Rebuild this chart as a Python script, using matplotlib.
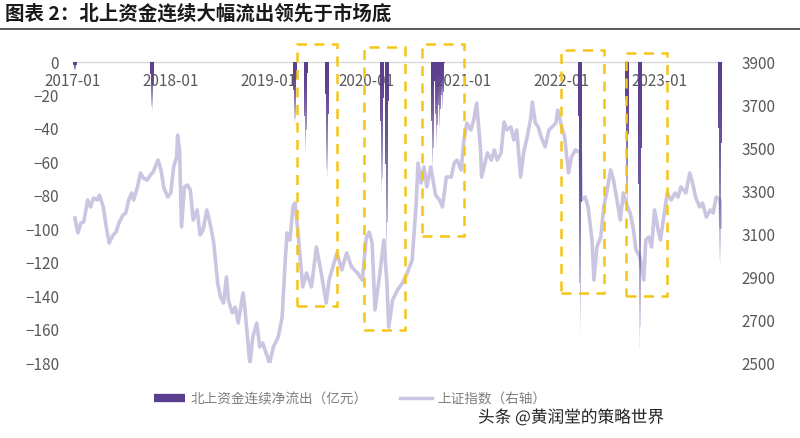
import matplotlib
matplotlib.use('Agg')
import matplotlib.pyplot as plt
import numpy as np
from matplotlib.patches import Rectangle
from matplotlib.lines import Line2D
import matplotlib.patheffects as pe
from matplotlib.colors import to_rgb

plt.rcParams['font.family'] = ['Noto Sans CJK SC', 'DejaVu Sans']

# ---------------- data ----------------
title = "图表 2：北上资金连续大幅流出领先于市场底"
legend_flow = "北上资金连续净流出（亿元）"
legend_sse = "上证指数（右轴）"
watermark = "头条 @黄润堂的策略世界"

tick_years = [2017, 2018, 2019, 2020, 2021, 2022, 2023]
tick_labels = ['2017-01', '2018-01', '2019-01', '2020-01', '2021-01', '2022-01', '2023-01']
left_ticks = [0, -20, -40, -60, -80, -100, -120, -140, -160, -180]
right_ticks = [3900, 3700, 3500, 3300, 3100, 2900, 2700, 2500]

# 上证指数 (decimal year, level)
sse_t = [2017.02, 2017.05, 2017.08, 2017.11, 2017.15, 2017.18, 2017.21, 2017.25, 2017.27, 2017.31,
         2017.34, 2017.37, 2017.41, 2017.44, 2017.47, 2017.51, 2017.54, 2017.57, 2017.60, 2017.62,
         2017.66, 2017.69, 2017.72, 2017.76, 2017.79, 2017.82, 2017.87, 2017.90, 2017.93, 2017.97,
         2018.00, 2018.03, 2018.06, 2018.07, 2018.09, 2018.11, 2018.14, 2018.17, 2018.20, 2018.23,
         2018.27, 2018.30, 2018.33, 2018.37, 2018.41, 2018.44, 2018.48, 2018.51, 2018.54, 2018.57,
         2018.59, 2018.63, 2018.66, 2018.69, 2018.74, 2018.76, 2018.79, 2018.81, 2018.84, 2018.88,
         2018.91, 2018.94, 2018.99,
         2019.01, 2019.05, 2019.10, 2019.14, 2019.17, 2019.19, 2019.22, 2019.25, 2019.27, 2019.30,
         2019.35, 2019.39, 2019.44, 2019.49, 2019.54, 2019.59, 2019.62, 2019.70, 2019.75, 2019.80,
         2019.85, 2019.91, 2019.96,
         2020.00, 2020.03, 2020.06, 2020.09, 2020.14, 2020.18, 2020.21, 2020.23, 2020.27, 2020.32,
         2020.37, 2020.42, 2020.47, 2020.51, 2020.53, 2020.56, 2020.59, 2020.62, 2020.66, 2020.71,
         2020.75, 2020.78, 2020.82, 2020.87, 2020.90, 2020.93, 2020.97,
         2021.00, 2021.03, 2021.07, 2021.10, 2021.13, 2021.17, 2021.18, 2021.24, 2021.28, 2021.31,
         2021.34, 2021.38, 2021.41, 2021.44, 2021.48, 2021.51, 2021.54, 2021.58, 2021.61, 2021.64,
         2021.68, 2021.70, 2021.73, 2021.76, 2021.79, 2021.83, 2021.87, 2021.90, 2021.94, 2021.96,
         2022.00, 2022.03, 2022.07, 2022.10, 2022.14, 2022.19, 2022.20, 2022.24, 2022.27, 2022.31,
         2022.33, 2022.36, 2022.40, 2022.43, 2022.46, 2022.50, 2022.53, 2022.56, 2022.60, 2022.63,
         2022.66, 2022.70, 2022.73, 2022.76, 2022.80, 2022.84, 2022.86, 2022.89, 2022.92, 2022.95,
         2022.98,
         2023.01, 2023.05, 2023.08, 2023.12, 2023.16, 2023.19, 2023.22, 2023.27, 2023.31, 2023.34,
         2023.37, 2023.41, 2023.44, 2023.48, 2023.52, 2023.55, 2023.58, 2023.62, 2023.63]
sse_v = [3174, 3105, 3151, 3156, 3258, 3226, 3267, 3258, 3281, 3226,
         3133, 3058, 3095, 3109, 3151, 3188, 3198, 3258, 3291, 3258,
         3319, 3384, 3360, 3351, 3374, 3388, 3444, 3398, 3314, 3272,
         3291, 3412, 3458, 3560, 3491, 3133, 3319, 3328, 3305, 3165,
         3212, 3095, 3119, 3212, 3133, 3058, 2872, 2807, 2779, 2900,
         2793, 2733, 2760, 2686, 2826, 2747, 2593, 2495, 2621, 2686,
         2575, 2593, 2528,
         2495, 2575, 2621, 2714, 2965, 3105, 3072, 3226, 3244, 3119,
         2854, 2919, 2854, 3040, 2919, 2779, 2886, 3012, 2933, 3012,
         2947, 2919, 2886,
         3081, 3109, 3058, 2747, 2919, 3072, 2886, 2667, 2793, 2840,
         2872, 2919, 2979, 3235, 3430, 3337, 3412, 3319, 3412, 3281,
         3258, 3226, 3365, 3365, 3430, 3444, 3398,
         3537, 3616, 3584, 3630, 3709, 3491, 3365, 3477, 3444, 3491,
         3444, 3477, 3621, 3584, 3598, 3537, 3584, 3365, 3477, 3537,
         3630, 3714, 3616, 3598, 3551, 3505, 3584, 3598, 3616, 3677,
         3598, 3551, 3384, 3458, 3491, 3477, 3258, 3272, 3226, 3072,
         2886, 3040, 3086, 3226, 3291, 3398, 3351, 3272, 3165, 3291,
         3244, 3198, 3133, 3026, 2993, 2886, 3072, 3086, 3040, 3212,
         3133,
         3072, 3198, 3291, 3258, 3291, 3272, 3319, 3291, 3384, 3337,
         3272, 3226, 3244, 3179, 3212, 3198, 3272, 3258, 3133]

# 北上资金连续净流出 (decimal year, 亿元)
flow_t = [2017.02, 2017.81, 2019.27, 2019.38, 2019.60, 2020.16, 2020.21,
          2020.68, 2020.72, 2020.75, 2020.78, 2022.19, 2022.67, 2022.80, 2023.62]
flow_v = [-5, -29, -37, -54, -69, -78, -116,
          -64, -50, -40, -28, -160, -90, -171, -121]

# highlighted periods (dashed boxes)
box_start = [2019.29, 2019.98, 2020.57, 2021.99, 2022.66]
box_end = [2019.70, 2020.40, 2021.00, 2022.43, 2023.08]
box_top = [10.8, 9.0, 10.8, 7.0, 5.4]
box_bottom = [-146, -160, -104, -138, -140]

# ---------------- style ----------------
c_flow = '#5B3F8F'
c_sse = '#CBC5E2'
c_box = '#F5C518'
c_text = '#595959'

fig = plt.figure(figsize=(8.0, 4.38), dpi=100)
ax = fig.add_axes([0.09125, 0.1712, 0.81125, 0.6872])
ax2 = ax.twinx()

# SSE line on right axis
ax2.plot(sse_t, sse_v, color=c_sse, lw=2.6, solid_joinstyle='round', zorder=2)
ax2.set_ylim(2500, 3900)
ax2.set_yticks(right_ticks)
ax2.tick_params(axis='y', length=0, pad=14, labelsize=11, labelcolor=c_text)

# spikes on left axis, fading wedges
ax.set_zorder(ax2.get_zorder() + 1)
ax.patch.set_visible(False)
n = 40
base = np.array(to_rgb(c_flow))
for t, v in zip(flow_t, flow_v):
    edges = np.linspace(0, v, n + 1)
    for i in range(n):
        f = i / (n - 1)
        alpha = max(0.08, 1 - f ** 2.2 * 0.95)
        w = 0.042 * (1 - 0.75 * f)
        ax.bar(t, edges[i + 1] - edges[i], bottom=edges[i], width=w,
               color=base, alpha=alpha, linewidth=0, zorder=3)

# dashed boxes
for x0, x1, y0, y1 in zip(box_start, box_end, box_top, box_bottom):
    r = Rectangle((x0, y1), x1 - x0, y0 - y1, fill=False, edgecolor=c_box,
                  lw=1.8, linestyle=(0, (4, 3)), clip_on=False, zorder=5)
    ax.add_patch(r)

ax.set_xlim(2017.0, 2023.64)
ax2.set_xlim(2017.0, 2023.64)
ax.set_ylim(-180, 0)
ax.set_yticks(left_ticks)
ax.tick_params(axis='y', length=0, pad=10, labelsize=11, labelcolor=c_text)

ax.set_xticks(tick_years)
ax.set_xticklabels(tick_labels)
ax.spines['bottom'].set_position(('data', 0))
ax.spines['bottom'].set_color('#D9D9D9')
ax.spines['bottom'].set_linewidth(1.0)
ax.tick_params(axis='x', length=0, pad=8, labelsize=11, labelcolor=c_text)
for s in ['top', 'left', 'right']:
    ax.spines[s].set_visible(False)
for s in ['top', 'left', 'right', 'bottom']:
    ax2.spines[s].set_visible(False)

# title and rule
fig.text(0.006, 0.968, title, fontsize=14, fontweight='bold', color='#1a1a1a',
         ha='left', va='center')
fig.add_artist(Line2D([0, 1], [1 - 29 / 438, 1 - 29 / 438], color='#404040', lw=1.2,
                      transform=fig.transFigure))

# legend
handles = [Line2D([], [], color=c_flow, lw=6, solid_capstyle='butt'),
           Line2D([], [], color=c_sse, lw=2.5)]
fig.legend(handles, [legend_flow, legend_sse], loc='center', bbox_to_anchor=(0.4375, 0.089),
           ncol=2, frameon=False, fontsize=9.8, labelcolor='#7F7F7F', handlelength=2.3,
           handletextpad=0.4, columnspacing=2.4)

# watermark
fig.text(0.5975, 0.046, watermark, fontsize=12, color='#222222', ha='left', va='center',
         path_effects=[pe.withStroke(linewidth=2.5, foreground='white')])

fig.savefig('out.png', dpi=100)
